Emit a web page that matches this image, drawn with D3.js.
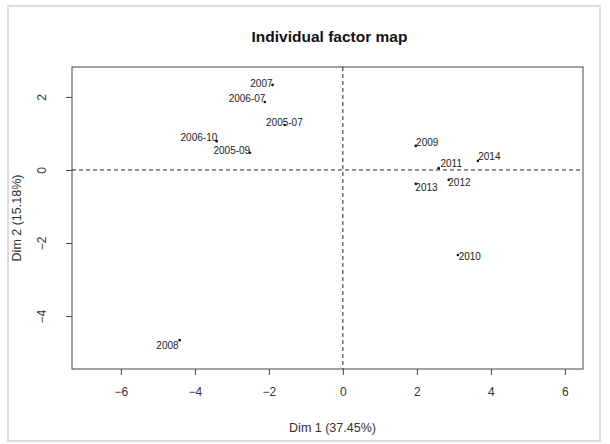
<!DOCTYPE html>
<html>
<head>
<meta charset="utf-8">
<script src="https://cdn.jsdelivr.net/npm/d3@7"></script>
<style>
  body { margin: 0; background: #fff; }
  svg { display: block; font-family: "Liberation Sans", Arial, sans-serif; }
</style>
</head>
<body>
<div id="chart"></div>
<script>
// individuals and their coordinates on the first two dimensions
const names = ["2007", "2006-07", "2005-07", "2006-10", "2005-09", "2009",
  "2014", "2011", "2012", "2013", "2010", "2008"];
const dim1 = [-1.90, -2.11, -1.57, -3.41, -2.51, 1.97, 3.65, 2.59, 2.86, 1.97, 3.11, -4.41];
const dim2 = [2.33, 1.86, 1.23, 0.79, 0.47, 0.66, 0.25, 0.05, -0.27, -0.38, -2.33, -4.66];
// where each label sits (label centre, data units)
const labX = [-2.20, -2.59, -1.58, -3.89, -3.00, 2.28, 3.96, 2.93, 3.15, 2.26, 3.43, -4.74];
const labY = [2.38, 1.95, 1.29, 0.88, 0.52, 0.74, 0.36, 0.19, -0.33, -0.47, -2.38, -4.82];

const xTicks = [-6, -4, -2, 0, 2, 4, 6];
const yTicks = [-4, -2, 0, 2];

const width = 610, height = 444;
const box = { left: 72, right: 583, top: 67, bottom: 369 };

const svg = d3.select("#chart").append("svg")
  .attr("width", width)
  .attr("height", height);

// outer frame of the picture
svg.append("rect")
  .attr("x", 8).attr("y", 6)
  .attr("width", 592).attr("height", 435)
  .attr("fill", "#fff")
  .attr("stroke", "#dcdcdc")
  .attr("stroke-width", 2);

const x = d3.scaleLinear().domain([-7.32, 6.49]).range([box.left, box.right]);
const y = d3.scaleLinear().domain([-5.45, 2.82]).range([box.bottom, box.top]);

// axes
const xAxis = svg.append("g")
  .attr("transform", `translate(0,${box.bottom})`)
  .call(d3.axisBottom(x).tickValues(xTicks).tickSize(6).tickPadding(12).tickFormat(d3.format("d")));
const yAxis = svg.append("g")
  .attr("transform", `translate(${box.left},0)`)
  .call(d3.axisLeft(y).tickValues(yTicks).tickSize(6).tickPadding(0).tickFormat(d3.format("d")));

[xAxis, yAxis].forEach(g => {
  g.select(".domain").remove();
  g.selectAll("line").attr("stroke", "#444");
  g.selectAll("text")
    .attr("fill", "#333")
    .style("font-size", "12px")
    .style("font-family", "Liberation Sans, Arial, sans-serif");
});

yAxis.selectAll("text")
  .attr("x", null).attr("dy", null)
  .attr("text-anchor", "middle")
  .attr("transform", "translate(-30,0) rotate(-90)")
  .attr("dy", "0.35em");

// box
svg.append("rect")
  .attr("x", box.left).attr("y", box.top)
  .attr("width", box.right - box.left)
  .attr("height", box.bottom - box.top)
  .attr("fill", "none")
  .attr("stroke", "#444")
  .attr("stroke-width", 1);

// dashed reference lines
svg.append("line")
  .attr("x1", x(0)).attr("x2", x(0))
  .attr("y1", box.top).attr("y2", box.bottom)
  .attr("stroke", "#222").attr("stroke-dasharray", "4,3");
svg.append("line")
  .attr("x1", box.left).attr("x2", box.right)
  .attr("y1", y(0)).attr("y2", y(0))
  .attr("stroke", "#222").attr("stroke-dasharray", "4,3");

// points and labels
const data = names.map((n, i) => ({ name: n, d1: dim1[i], d2: dim2[i], lx: labX[i], ly: labY[i] }));

svg.append("g").selectAll("circle")
  .data(data)
  .enter().append("circle")
  .attr("cx", d => x(d.d1))
  .attr("cy", d => y(d.d2))
  .attr("r", 1.3)
  .attr("fill", "#111");

svg.append("g").selectAll("text")
  .data(data)
  .enter().append("text")
  .attr("x", d => x(d.lx))
  .attr("y", d => y(d.ly))
  .attr("dy", "0.35em")
  .attr("text-anchor", "middle")
  .attr("fill", "#222")
  .style("font-size", "10px")
  .text(d => d.name);

// titles
svg.append("text")
  .attr("x", (box.left + box.right) / 2 + 2)
  .attr("y", 42)
  .attr("text-anchor", "middle")
  .style("font-size", "15.5px")
  .style("font-weight", "bold")
  .attr("fill", "#111")
  .text("Individual factor map");

svg.append("text")
  .attr("x", (box.left + box.right) / 2 + 5)
  .attr("y", 432)
  .attr("text-anchor", "middle")
  .style("font-size", "12.5px")
  .attr("fill", "#333")
  .text("Dim 1 (37.45%)");

svg.append("text")
  .attr("transform", `translate(21,${(box.top + box.bottom) / 2}) rotate(-90)`)
  .attr("text-anchor", "middle")
  .style("font-size", "12.5px")
  .attr("fill", "#333")
  .text("Dim 2 (15.18%)");
</script>
</body>
</html>
